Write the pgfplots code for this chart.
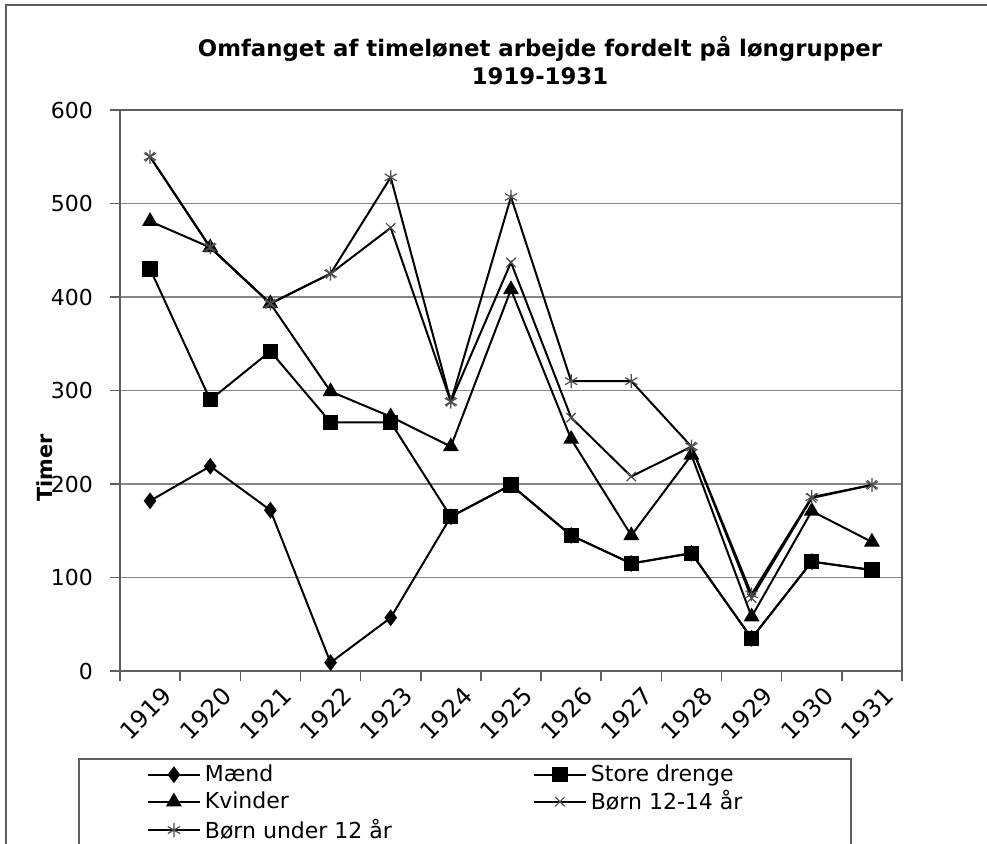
\documentclass[border=0pt]{standalone}
\usepackage{fontspec}
\setmainfont{DejaVu Sans}
\usepackage{pgfplots}
\pgfplotsset{compat=1.18}
\definecolor{gridgray}{RGB}{135,135,135}
\definecolor{axisgray}{RGB}{95,95,95}

\begin{document}
\begin{tikzpicture}
\useasboundingbox (0,0) rectangle (493.5pt,-421.5pt);
% chart area frame (left and top edges are the only ones in view)
\draw[axisgray, line width=1pt] (3pt,-430pt) -- (3pt,-2.5pt) -- (500pt,-2.5pt);
\node[font=\fontsize{11.4}{14}\selectfont\bfseries, align=center] at (270pt,-30.5pt)
  {Omfanget af timelønet arbejde fordelt på løngrupper\\1919-1931};
\begin{axis}[
  at={(60pt,-335.5pt)}, anchor=south west,
  scale only axis, width=391pt, height=280.5pt,
  xmin=-0.5, xmax=12.5, ymin=0, ymax=600,
  xtick={0,...,12},
  xticklabels={1919,1920,1921,1922,1923,1924,1925,1926,1927,1928,1929,1930,1931},
  minor xtick={-0.5,0.5,...,12.5},
  ytick={0,100,...,600},
  tick pos=left,
  ymajorgrids,
  major grid style={gridgray, line width=0.9pt},
  tick align=outside, major tick length=5pt, minor tick length=5pt,
  tick style={axisgray, line width=0.8pt},
  major x tick style={draw=none},
  axis line style={axisgray, line width=0.9pt},
  /pgf/number format/assume math mode=true,
  yticklabel style={font=\fontsize{11}{13}\selectfont, xshift=-5pt},
  xticklabel style={font=\fontsize{12}{14}\selectfont, xshift=11pt, yshift=-3pt, rotate=45, anchor=east},
  legend columns=2,
  legend cell align=left,
  legend style={at={(-0.0537,-0.155)}, anchor=north west,
    draw=axisgray, line width=0.9pt, inner xsep=34pt, inner ysep=1pt,
    font=\fontsize{11}{13}\selectfont, row sep=-1pt},
  legend image code/.code={\draw[mark repeat=2,mark phase=2] plot coordinates {(0pt,0pt) (13pt,0pt) (26pt,0pt)};},
]
\addplot[black, line width=1pt, mark=diamond*, mark size=3.4pt] coordinates {
(0,182) (1,219) (2,172) (3,9) (4,57) (5,165) (6,199) (7,145) (8,115) (9,126) (10,35) (11,117) (12,108)};
\addlegendentry{\makebox[162pt][l]{Mænd}}
\addplot[black, line width=1pt, mark=square*, mark size=3.3pt] coordinates {
(0,430) (1,290) (2,342) (3,266) (4,266) (5,165) (6,199) (7,145) (8,115) (9,126) (10,35) (11,117) (12,108)};
\addlegendentry{\makebox[94pt][l]{Store drenge}}
\addplot[black, line width=1pt, mark=triangle*, mark size=3.6pt] coordinates {
(0,481) (1,453) (2,393) (3,299) (4,272) (5,240) (6,408) (7,248) (8,145) (9,231) (10,58) (11,171) (12,138)};
\addlegendentry{\makebox[162pt][l]{Kvinder}}
\addplot[black, line width=1pt, mark=x, mark size=3.3pt, mark options={line width=0.6pt, black!70}] coordinates {
(0,550) (1,453) (2,393) (3,425) (4,474) (5,288) (6,437) (7,271) (8,208) (9,240) (10,78) (11,185) (12,199)};
\addlegendentry{\makebox[94pt][l]{Børn 12-14 år}}
\addplot[black, line width=1pt, mark=asterisk, mark size=3.5pt, mark options={line width=0.6pt, black!70}] coordinates {
(0,550) (1,453) (2,393) (3,425) (4,528) (5,288) (6,507) (7,310) (8,310) (9,240) (10,82) (11,186) (12,199)};
\addlegendentry{\makebox[162pt][l]{Børn under 12 år}}
\end{axis}
\node[rotate=90, font=\fontsize{10.4}{12}\selectfont\bfseries] at (22.5pt,-234pt) {Timer};
\end{tikzpicture}
\end{document}
